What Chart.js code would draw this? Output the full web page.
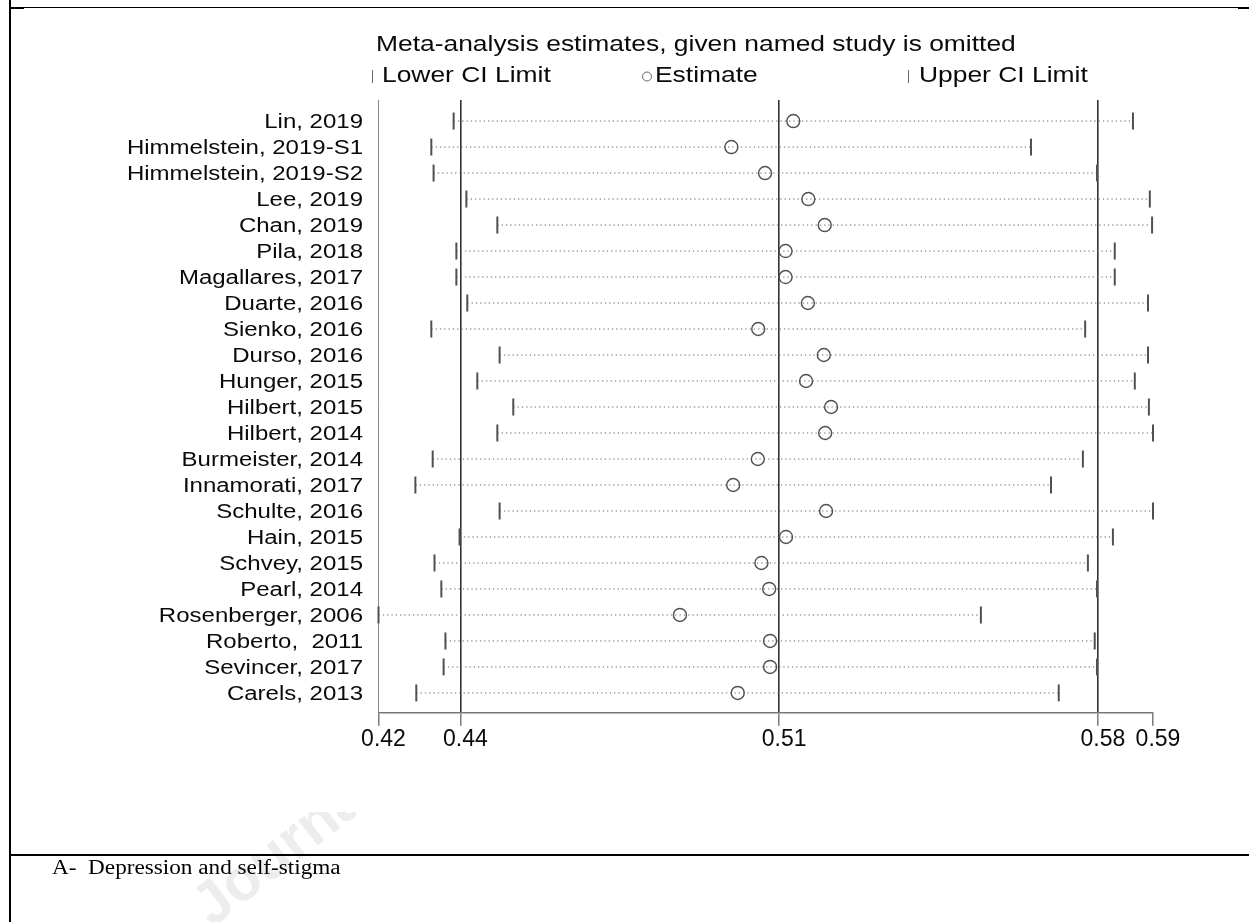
<!DOCTYPE html>
<html>
<head>
<meta charset="utf-8">
<title>Meta-analysis estimates, given named study is omitted</title>
<script src="https://cdn.jsdelivr.net/npm/chart.js@4.4.1/dist/chart.umd.min.js"></script>
<style>
  html, body { margin: 0; padding: 0; background: #fff; }
  body { position: relative; width: 1249px; height: 922px; overflow: hidden; }
  #watermark {
    position: absolute; left: 215px; top: 872px; height: 60px; line-height: 60px;
    font: bold 60px 'Liberation Sans', Arial, sans-serif; color: #ededed;
    transform: rotate(-38deg); transform-origin: 0 100%; white-space: nowrap;
  }
  #plot { position: absolute; left: 0; top: 0; }
  .rule { position: absolute; background: #000; }
  #caption {
    position: absolute; left: 52px; top: 856px; line-height: 20px;
    font: 20px 'Liberation Serif', 'Times New Roman', serif; color: #000;
    white-space: pre; transform: scaleX(1.16); transform-origin: 0 0;
  }
</style>
</head>
<body>
<div id="watermark">Journal Pre-proof</div>
<canvas id="plot" width="1249" height="922"></canvas>
<div class="rule" style="left:10px; top:7px; width:1230px; height:1px;"></div>
<div class="rule" style="left:10px; top:7px; width:14px; height:2px;"></div>
<div class="rule" style="left:1238px; top:7px; width:11px; height:2px;"></div>
<div class="rule" style="left:9px; top:0; width:2px; height:922px;"></div>
<div class="rule" style="left:10px; top:854px; width:1239px; height:2px;"></div>
<div id="caption">A-  Depression and self-stigma</div>

<script>
// Leave-one-out estimates: each row is the pooled result with that study left out
const studies = [
    'Lin, 2019', 'Himmelstein, 2019-S1', 'Himmelstein, 2019-S2', 'Lee, 2019', 'Chan, 2019',
    'Pila, 2018', 'Magallares, 2017', 'Duarte, 2016', 'Sienko, 2016', 'Durso, 2016',
    'Hunger, 2015', 'Hilbert, 2015', 'Hilbert, 2014', 'Burmeister, 2014', 'Innamorati, 2017',
    'Schulte, 2016', 'Hain, 2015', 'Schvey, 2015', 'Pearl, 2014', 'Rosenberger, 2006',
    'Roberto,  2011', 'Sevincer, 2017', 'Carels, 2013'
];
const lowerCI = [
    0.4385, 0.4336, 0.4341, 0.4413, 0.4481, 0.4391, 0.4391, 0.4415, 0.4336, 0.4486,
    0.4437, 0.4516, 0.4481, 0.4339, 0.4301, 0.4486, 0.4398, 0.4343, 0.4358, 0.4220,
    0.4367, 0.4363, 0.4303
];
const estimates = [
    0.5131, 0.4995, 0.5069, 0.5164, 0.5200, 0.5114, 0.5114, 0.5163, 0.5054, 0.5198,
    0.5159, 0.5214, 0.5201, 0.5053, 0.4999, 0.5203, 0.5115, 0.5061, 0.5078, 0.4882,
    0.5080, 0.5080, 0.5009
];
const upperCI = [
    0.5877, 0.5653, 0.5798, 0.5914, 0.5919, 0.5837, 0.5837, 0.5910, 0.5772, 0.5910,
    0.5881, 0.5912, 0.5921, 0.5767, 0.5697, 0.5921, 0.5833, 0.5778, 0.5798, 0.5543,
    0.5793, 0.5798, 0.5714
];
// pooled estimate with all studies included
const pooledLower = 0.44;
const pooledEstimate = 0.51;
const pooledUpper = 0.58;

const titleText = 'Meta-analysis estimates, given named study is omitted';
const legendItems = ['Lower CI Limit', 'Estimate', 'Upper CI Limit'];

const rows = studies.map((s, i) => i + 1);
const xMin = Math.min(...lowerCI);
const xMax = Math.max(...upperCI);
const xTicks = [xMin, pooledLower, pooledEstimate, pooledUpper, xMax];

Chart.defaults.font.family = "'Liberation Sans', Arial, sans-serif";
Chart.defaults.color = '#0a0a0a';

// text is a little wider than the font, so it is drawn with a horizontal stretch
function wideText(ctx, text, x, y, size, sx, align) {
    ctx.save();
    ctx.font = size + "px 'Liberation Sans', Arial, sans-serif";
    ctx.fillStyle = '#0a0a0a';
    ctx.textBaseline = 'alphabetic';
    ctx.textAlign = 'left';
    let w = ctx.measureText(text).width * sx;
    let left = x;
    if (align === 'right') left = x - w;
    if (align === 'center') left = x - w / 2;
    ctx.translate(left, y);
    ctx.scale(sx, 1);
    ctx.fillText(text, 0, 0);
    ctx.restore();
}

const whiteFigure = {
    id: 'whiteFigure',
    beforeDraw(chart) {
        const ctx = chart.ctx;
        ctx.save();
        ctx.fillStyle = '#fff';
        ctx.fillRect(12, 10, 1226, 802);
        ctx.restore();
    }
};

const labelsAndKey = {
    id: 'labelsAndKey',
    afterDraw(chart) {
        const ctx = chart.ctx;
        const yScale = chart.scales.y;

        // study names beside each row
        studies.forEach((name, i) => {
            const y = yScale.getPixelForValue(rows[i]);
            wideText(ctx, name, 363, y + 7.2, 20, 1.2, 'right');
        });

        // title and key
        wideText(ctx, titleText, 376, 51, 22, 1.2, 'left');

        ctx.save();
        ctx.strokeStyle = '#666';
        ctx.lineWidth = 1;
        ctx.beginPath();
        ctx.moveTo(372.5, 70); ctx.lineTo(372.5, 83);
        ctx.moveTo(908.5, 70); ctx.lineTo(908.5, 83);
        ctx.stroke();
        ctx.beginPath();
        ctx.arc(647, 76.5, 4.5, 0, Math.PI * 2);
        ctx.stroke();
        ctx.restore();

        wideText(ctx, legendItems[0], 382, 82, 22, 1.2, 'left');
        wideText(ctx, legendItems[1], 655, 82, 22, 1.2, 'left');
        wideText(ctx, legendItems[2], 919, 82, 22, 1.2, 'left');
    }
};

// dotted line from lower to upper limit for every row
const ciLines = studies.map((name, i) => ({
    type: 'line',
    label: name,
    data: [{x: lowerCI[i], y: rows[i]}, {x: upperCI[i], y: rows[i]}],
    borderColor: '#6a6a6a',
    borderWidth: 1,
    borderDash: [1.3, 3],
    pointRadius: 0,
    clip: false,
    order: 3
}));

const limitTick = {
    pointStyle: 'line',
    pointRotation: 90,
    pointRadius: 8.5,
    pointHoverRadius: 8.5,
    pointBorderWidth: 2,
    pointBorderColor: '#505050',
    clip: false,
    order: 2
};

const ctx = document.getElementById('plot').getContext('2d');
const myChart = new Chart(ctx, {
    type: 'scatter',
    data: {
        datasets: [
            ...ciLines,
            Object.assign({label: 'Lower CI Limit', data: lowerCI.map((v, i) => ({x: v, y: rows[i]}))}, limitTick),
            Object.assign({label: 'Upper CI Limit', data: upperCI.map((v, i) => ({x: v, y: rows[i]}))}, limitTick),
            {
                label: 'Estimate',
                data: estimates.map((v, i) => ({x: v, y: rows[i]})),
                pointStyle: 'circle',
                pointRadius: 6.5,
                pointHoverRadius: 6.5,
                pointBorderWidth: 1.4,
                pointBorderColor: '#505050',
                pointBackgroundColor: 'rgba(0,0,0,0)',
                clip: false,
                order: 1
            }
        ]
    },
    options: {
        responsive: false,
        devicePixelRatio: 1,
        animation: false,
        events: [],
        layout: {padding: {top: 100, right: 96, left: 0, bottom: 0}},
        plugins: {
            legend: {display: false},
            tooltip: {enabled: false},
            title: {display: false}
        },
        scales: {
            x: {
                type: 'linear',
                min: xMin,
                max: xMax,
                afterBuildTicks: (scale) => {
                    scale.ticks = xTicks.map(v => ({value: v}));
                },
                afterFit: (scale) => {
                    scale.height = 922 - 712.7;
                },
                grid: {
                    color: (c) => (c.index >= 1 && c.index <= 3) ? '#333' : 'rgba(0,0,0,0)',
                    lineWidth: 1.6,
                    tickColor: '#666',
                    tickWidth: 1.3,
                    tickLength: 13
                },
                border: {color: '#777', width: 1.5},
                ticks: {
                    callback: (v) => Number(v).toFixed(2),
                    font: {size: 23},
                    color: '#0a0a0a',
                    labelOffset: 5,
                    padding: 0,
                    maxRotation: 0,
                    autoSkip: false
                }
            },
            y: {
                type: 'linear',
                min: 0.19,
                max: 23.76,
                reverse: true,
                afterFit: (scale) => {
                    scale.width = 378.5;
                },
                grid: {display: false},
                border: {color: '#888', width: 1},
                ticks: {display: false}
            }
        }
    },
    plugins: [whiteFigure, labelsAndKey]
});
</script>
</body>
</html>
